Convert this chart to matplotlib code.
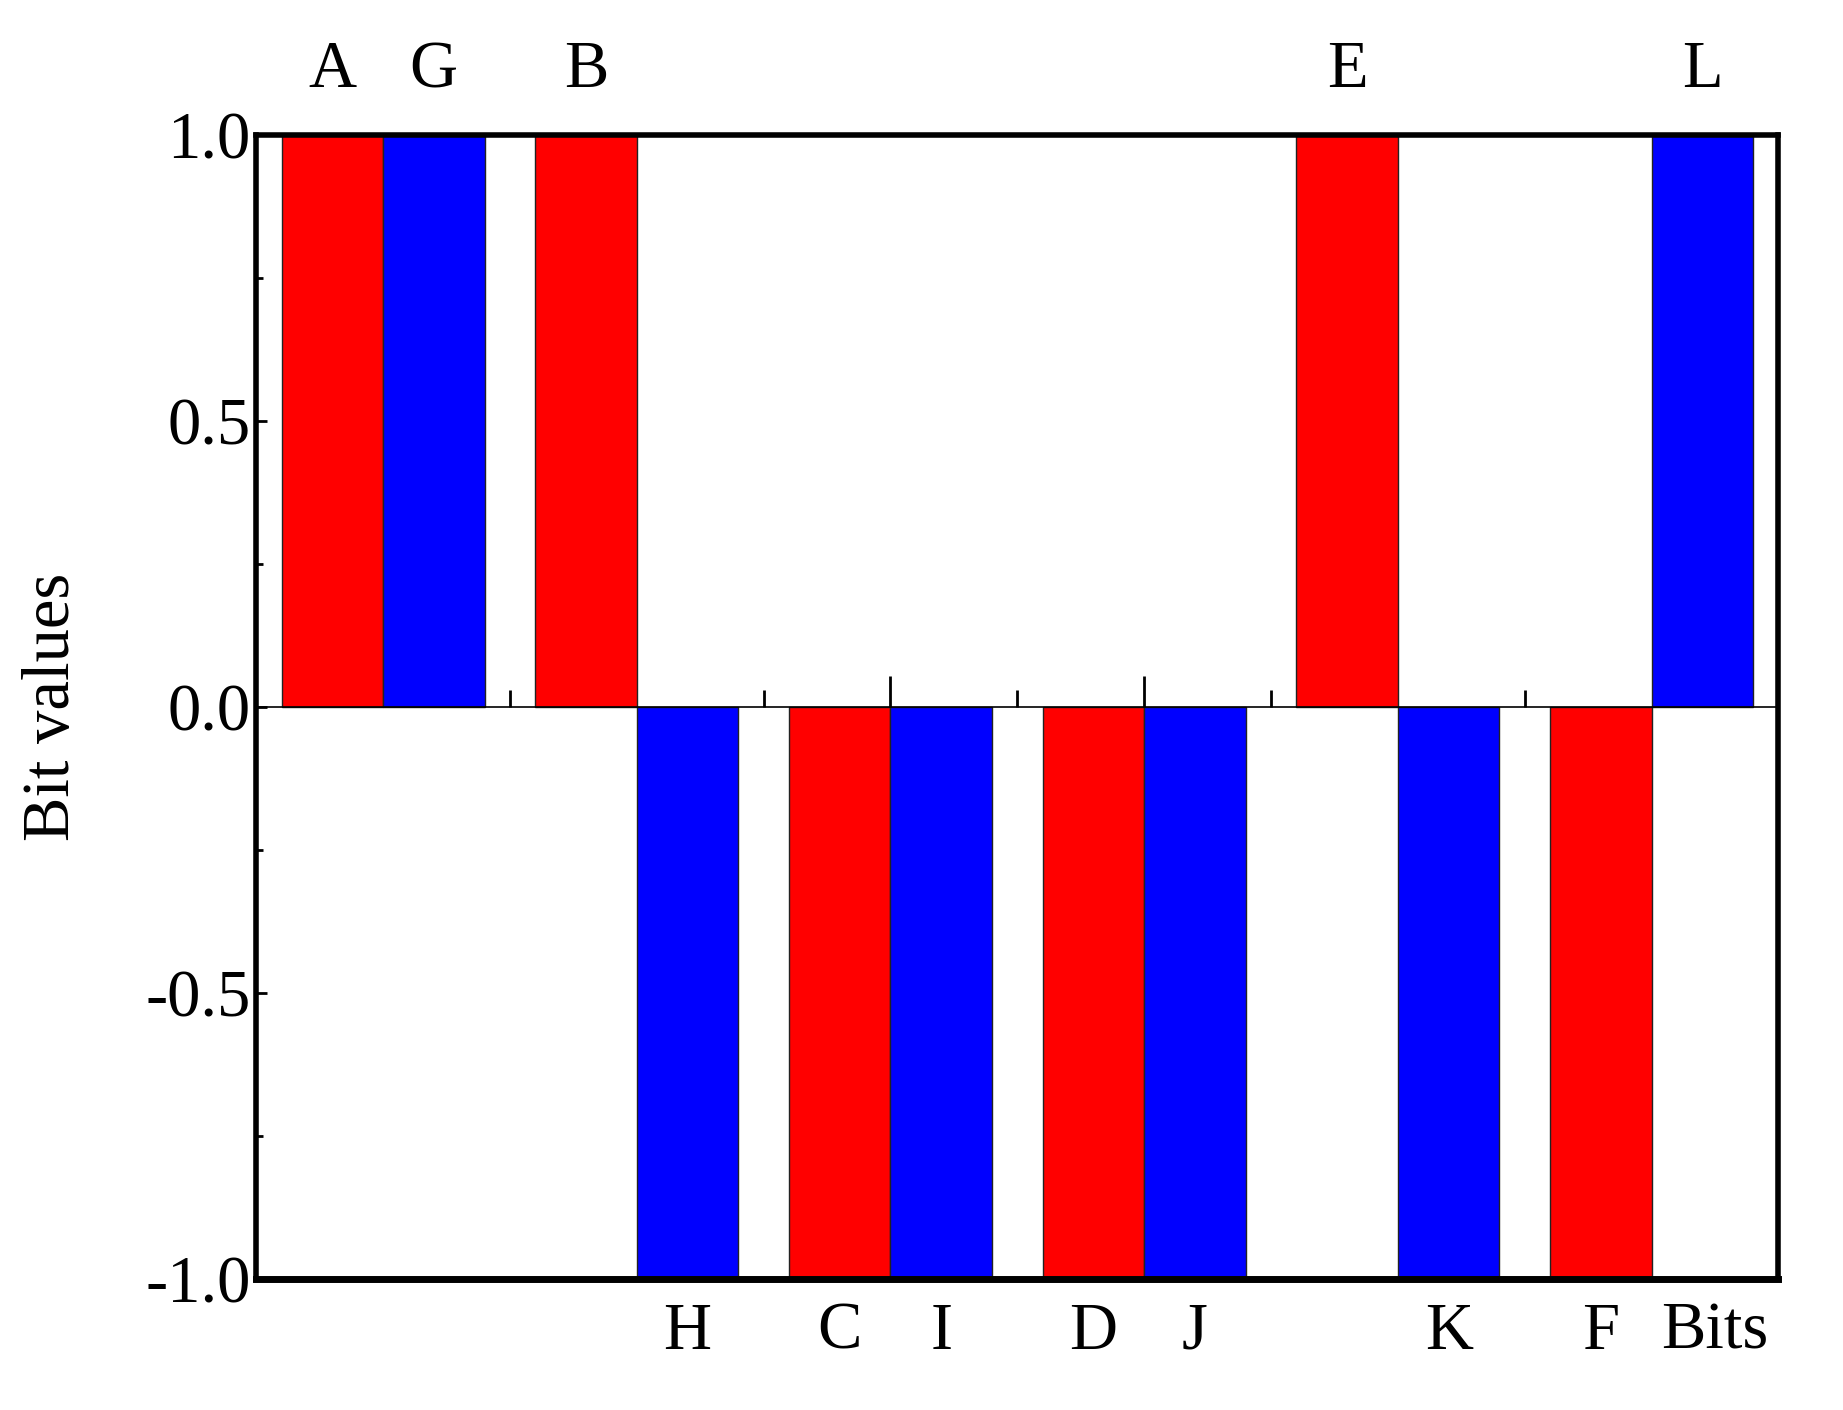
import matplotlib
matplotlib.use("Agg")
import matplotlib.pyplot as plt
import numpy as np

red_labels = ["A", "B", "C", "D", "E", "F"]
red_values = [1, 1, -1, -1, 1, -1]
blue_labels = ["G", "H", "I", "J", "K", "L"]
blue_values = [1, -1, -1, -1, -1, 1]
yticks = [-1.0, -0.5, 0.0, 0.5, 1.0]

plt.rcParams['font.family'] = ['Liberation Serif', 'DejaVu Serif']
fig = plt.figure(figsize=(18.43, 14.10), dpi=100)
ax = fig.add_axes([0.139, 0.093, 0.826, 0.811])

x = np.arange(len(red_values)) + 0.5
w = 0.4
ax.bar(x - w/2, red_values, w, color='#ff0000', edgecolor='#222222', linewidth=1)
ax.bar(x + w/2, blue_values, w, color='#0000ff', edgecolor='#222222', linewidth=1)

ax.set_xlim(0, 6)
ax.set_ylim(-1, 1)
ax.spines['bottom'].set_position(('data', 0))
ax.spines['bottom'].set_linewidth(1.2)
for s in ['left', 'top', 'right']:
    ax.spines[s].set_linewidth(4)
ax.axhline(-1, color='black', lw=5, clip_on=False)

ax.set_xticks([2.5, 3.5])
ax.set_xticks([1, 2, 3, 4, 5], minor=True)
ax.tick_params(axis='x', which='major', direction='in', length=22, width=2, labelbottom=False)
ax.tick_params(axis='x', which='minor', direction='in', length=12, width=2)
ax.set_yticks(yticks)
ax.set_yticklabels([f"{v:.1f}" for v in yticks])
ax.set_yticks([-0.75, -0.25, 0.25, 0.75], minor=True)
ax.tick_params(axis='y', which='major', direction='in', length=8, width=2, labelsize=48, pad=4)
ax.tick_params(axis='y', which='minor', direction='in', length=5, width=2)

for xs, vals, labs in [(x - w/2, red_values, red_labels), (x + w/2, blue_values, blue_labels)]:
    for xi, v, l in zip(xs, vals, labs):
        if v > 0:
            ax.text(xi, 1.06, l, ha='center', va='bottom', fontsize=48)
        else:
            ax.text(xi, -1.04, l, ha='center', va='top', fontsize=48)

ax.text(5.75, -1.04, "Bits", ha='center', va='top', fontsize=48)
ax.set_ylabel("Bit values", fontsize=48, labelpad=45)

fig.savefig("out.png", dpi=100)
